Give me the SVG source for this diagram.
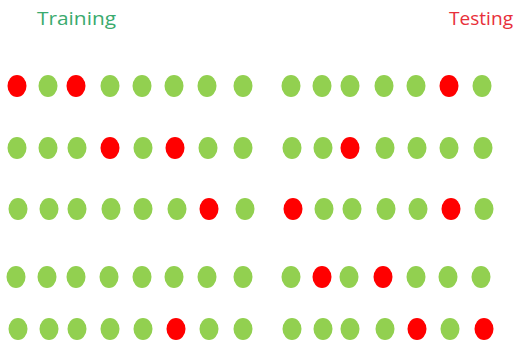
<svg xmlns="http://www.w3.org/2000/svg" width="524" height="345" viewBox="0 0 524 345">
<style>
.g{fill:#92d050}
.r{fill:#ff0000}
.t{font-family:"Open Sans","Liberation Sans",sans-serif;font-size:18px}
</style>
<rect width="524" height="345" fill="#ffffff"/>
<g id="labels">
<text class="t" x="37" y="25" fill="#3aaa6e" textLength="79" lengthAdjust="spacingAndGlyphs">Training</text>
<text class="t" x="449" y="25" fill="#e8303a" textLength="64" lengthAdjust="spacingAndGlyphs">Testing</text>
</g>
<g id="row1">
<ellipse class="r" cx="17" cy="86" rx="9.5" ry="11"/>
<ellipse class="g" cx="48" cy="86" rx="9.5" ry="11"/>
<ellipse class="r" cx="76" cy="86" rx="9.5" ry="11"/>
<ellipse class="g" cx="110" cy="86" rx="9.5" ry="11"/>
<ellipse class="g" cx="142" cy="86" rx="9.5" ry="11"/>
<ellipse class="g" cx="174" cy="86" rx="9.5" ry="11"/>
<ellipse class="g" cx="207" cy="86" rx="9.5" ry="11"/>
<ellipse class="g" cx="243" cy="86" rx="9.5" ry="11"/>
<ellipse class="g" cx="291" cy="86" rx="9.5" ry="11"/>
<ellipse class="g" cx="322" cy="86" rx="9.5" ry="11"/>
<ellipse class="g" cx="350" cy="86" rx="9.5" ry="11"/>
<ellipse class="g" cx="384" cy="86" rx="9.5" ry="11"/>
<ellipse class="g" cx="416" cy="86" rx="9.5" ry="11"/>
<ellipse class="r" cx="449" cy="86" rx="9.5" ry="11"/>
<ellipse class="g" cx="482" cy="86" rx="9.5" ry="11"/>
</g>
<g id="row2">
<ellipse class="g" cx="17" cy="148" rx="9.5" ry="11"/>
<ellipse class="g" cx="48" cy="148" rx="9.5" ry="11"/>
<ellipse class="g" cx="77" cy="148" rx="9.5" ry="11"/>
<ellipse class="r" cx="110" cy="148" rx="9.5" ry="11"/>
<ellipse class="g" cx="143" cy="148" rx="9.5" ry="11"/>
<ellipse class="r" cx="175" cy="148" rx="9.5" ry="11"/>
<ellipse class="g" cx="208" cy="148" rx="9.5" ry="11"/>
<ellipse class="g" cx="243" cy="148" rx="9.5" ry="11"/>
<ellipse class="g" cx="292" cy="148" rx="9.5" ry="11"/>
<ellipse class="g" cx="323" cy="148" rx="9.5" ry="11"/>
<ellipse class="r" cx="350" cy="148" rx="9.5" ry="11"/>
<ellipse class="g" cx="385" cy="148" rx="9.5" ry="11"/>
<ellipse class="g" cx="417" cy="148" rx="9.5" ry="11"/>
<ellipse class="g" cx="449" cy="148" rx="9.5" ry="11"/>
<ellipse class="g" cx="483" cy="148" rx="9.5" ry="11"/>
</g>
<g id="row3">
<ellipse class="g" cx="18" cy="209" rx="9.5" ry="11"/>
<ellipse class="g" cx="49" cy="209" rx="9.5" ry="11"/>
<ellipse class="g" cx="77" cy="209" rx="9.5" ry="11"/>
<ellipse class="g" cx="111" cy="209" rx="9.5" ry="11"/>
<ellipse class="g" cx="143" cy="209" rx="9.5" ry="11"/>
<ellipse class="g" cx="177" cy="209" rx="9.5" ry="11"/>
<ellipse class="r" cx="209" cy="209" rx="9.5" ry="11"/>
<ellipse class="g" cx="245" cy="209" rx="9.5" ry="11"/>
<ellipse class="r" cx="293" cy="209" rx="9.5" ry="11"/>
<ellipse class="g" cx="324" cy="209" rx="9.5" ry="11"/>
<ellipse class="g" cx="352" cy="209" rx="9.5" ry="11"/>
<ellipse class="g" cx="386" cy="209" rx="9.5" ry="11"/>
<ellipse class="g" cx="418" cy="209" rx="9.5" ry="11"/>
<ellipse class="r" cx="451" cy="209" rx="9.5" ry="11"/>
<ellipse class="g" cx="484" cy="209" rx="9.5" ry="11"/>
</g>
<g id="row4">
<ellipse class="g" cx="16" cy="277" rx="9.5" ry="11"/>
<ellipse class="g" cx="47" cy="277" rx="9.5" ry="11"/>
<ellipse class="g" cx="76" cy="277" rx="9.5" ry="11"/>
<ellipse class="g" cx="109" cy="277" rx="9.5" ry="11"/>
<ellipse class="g" cx="142" cy="277" rx="9.5" ry="11"/>
<ellipse class="g" cx="174" cy="277" rx="9.5" ry="11"/>
<ellipse class="g" cx="207" cy="277" rx="9.5" ry="11"/>
<ellipse class="g" cx="243" cy="277" rx="9.5" ry="11"/>
<ellipse class="g" cx="291" cy="277" rx="9.5" ry="11"/>
<ellipse class="r" cx="322" cy="277" rx="9.5" ry="11"/>
<ellipse class="g" cx="349" cy="277" rx="9.5" ry="11"/>
<ellipse class="r" cx="383" cy="277" rx="9.5" ry="11"/>
<ellipse class="g" cx="416" cy="277" rx="9.5" ry="11"/>
<ellipse class="g" cx="448" cy="277" rx="9.5" ry="11"/>
<ellipse class="g" cx="481" cy="277" rx="9.5" ry="11"/>
</g>
<g id="row5">
<ellipse class="g" cx="18" cy="329" rx="9.5" ry="11"/>
<ellipse class="g" cx="49" cy="329" rx="9.5" ry="11"/>
<ellipse class="g" cx="77" cy="329" rx="9.5" ry="11"/>
<ellipse class="g" cx="110" cy="329" rx="9.5" ry="11"/>
<ellipse class="g" cx="143" cy="329" rx="9.5" ry="11"/>
<ellipse class="r" cx="176" cy="329" rx="9.5" ry="11"/>
<ellipse class="g" cx="209" cy="329" rx="9.5" ry="11"/>
<ellipse class="g" cx="243" cy="329" rx="9.5" ry="11"/>
<ellipse class="g" cx="292" cy="329" rx="9.5" ry="11"/>
<ellipse class="g" cx="323" cy="329" rx="9.5" ry="11"/>
<ellipse class="g" cx="350" cy="329" rx="9.5" ry="11"/>
<ellipse class="g" cx="385" cy="329" rx="9.5" ry="11"/>
<ellipse class="r" cx="417" cy="329" rx="9.5" ry="11"/>
<ellipse class="g" cx="450" cy="329" rx="9.5" ry="11"/>
<ellipse class="r" cx="484" cy="329" rx="9.5" ry="11"/>
</g>
</svg>
